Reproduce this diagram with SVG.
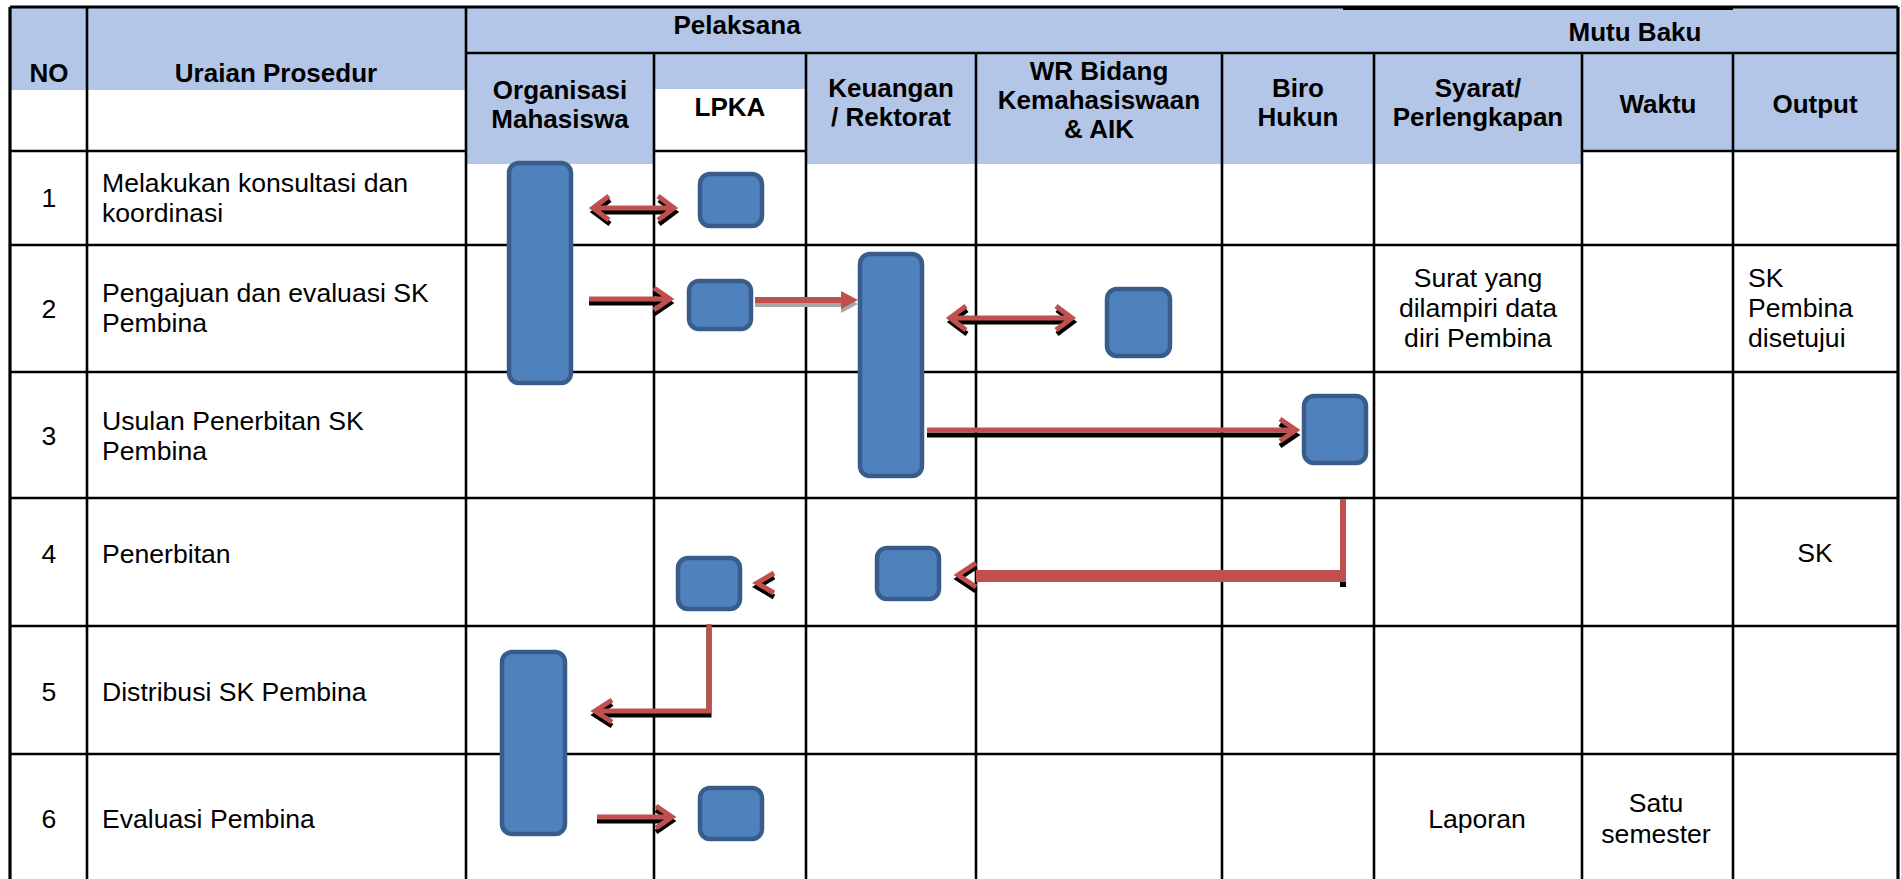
<svg xmlns="http://www.w3.org/2000/svg" width="1901" height="879" viewBox="0 0 1901 879">
<style>
.hd{fill:#B4C6E7}
.ln{stroke:#000;stroke-width:2.6;fill:none}
.ol{stroke:#000;stroke-width:3.2;fill:none}
.th{font-family:"Liberation Sans",Arial,sans-serif;font-size:26px;font-weight:bold;fill:#000;text-anchor:middle}
.tb{font-family:"Liberation Sans",Arial,sans-serif;font-size:26.6px;fill:#000}
.c{text-anchor:middle}
.box{fill:#4F81BD;stroke:#385D8A;stroke-width:4.5}
.rd{stroke:#C0504D;stroke-width:5;fill:none;stroke-linejoin:miter}
.sh{stroke:#000;stroke-width:5;fill:none;stroke-linejoin:miter}
.gs{stroke:#A6A6A6;stroke-width:6;fill:none}
</style>
<defs>
<path id="p1" d="M593,208 H674 M609,196 L593,208 L609,220 M658,196 L674,208 L658,220"/>
<path id="p2" d="M589,299 H670 M654,288 L670,299 L654,310"/>
<path id="p4" d="M950,318 H1072 M966,306 L950,318 L966,330 M1056,306 L1072,318 L1056,330"/>
<path id="p5" d="M927,430 H1296 M1280,419 L1296,430 L1280,441"/>
<path id="p6h" d="M976,563 L958,575 L976,587"/>
<path id="p7" d="M774,573 L757,583 L774,593"/>
<path id="p8" d="M709,624 V711 H595 M612,700 L595,711 L612,722"/>
<path id="p9" d="M597,817 H672 M656,806 L672,817 L656,828"/>
</defs>
<rect x="0" y="0" width="1901" height="879" fill="#fff"/>
<g id="header-fill">
<rect class="hd" x="10" y="7" width="456" height="83"/>
<rect class="hd" x="466" y="7" width="1432" height="46"/>
<rect class="hd" x="466" y="53" width="188" height="111"/>
<rect class="hd" x="654" y="53" width="152" height="36"/>
<rect class="hd" x="806" y="53" width="776" height="111"/>
<rect class="hd" x="1582" y="53" width="316" height="98"/>
</g>
<g id="grid">
<line class="ol" x1="10" y1="7" x2="1898" y2="7"/>
<line stroke="#000" stroke-width="4" x1="1343" y1="8" x2="1733" y2="8"/>
<line class="ol" x1="10" y1="7" x2="10" y2="879"/>
<line class="ol" x1="1898" y1="7" x2="1898" y2="879"/>
<line class="ln" x1="87" y1="7" x2="87" y2="879"/>
<line class="ln" x1="466" y1="7" x2="466" y2="879"/>
<line class="ln" x1="654" y1="53" x2="654" y2="879"/>
<line class="ln" x1="806" y1="53" x2="806" y2="879"/>
<line class="ln" x1="976" y1="53" x2="976" y2="879"/>
<line class="ln" x1="1222" y1="53" x2="1222" y2="879"/>
<line class="ln" x1="1374" y1="53" x2="1374" y2="879"/>
<line class="ln" x1="1582" y1="53" x2="1582" y2="879"/>
<line class="ln" x1="1733" y1="53" x2="1733" y2="879"/>
<line class="ln" x1="466" y1="53" x2="1898" y2="53"/>
<line class="ln" x1="10" y1="151" x2="466" y2="151"/>
<line class="ln" x1="654" y1="151" x2="806" y2="151"/>
<line class="ln" x1="1582" y1="151" x2="1898" y2="151"/>
<line class="ln" x1="10" y1="245" x2="1898" y2="245"/>
<line class="ln" x1="10" y1="372" x2="1898" y2="372"/>
<line class="ln" x1="10" y1="498" x2="1898" y2="498"/>
<line class="ln" x1="10" y1="626" x2="1898" y2="626"/>
<line class="ln" x1="10" y1="754" x2="1898" y2="754"/>
</g>
<g id="header-text">
<text class="th" x="49" y="82">NO</text>
<text class="th" x="276" y="82">Uraian Prosedur</text>
<text class="th" x="737" y="34">Pelaksana</text>
<text class="th" x="1635" y="41">Mutu Baku</text>
<text class="th" x="560" y="99">Organisasi</text>
<text class="th" x="560" y="128">Mahasiswa</text>
<text class="th" x="730" y="116">LPKA</text>
<text class="th" x="891" y="97">Keuangan</text>
<text class="th" x="891" y="126">/ Rektorat</text>
<text class="th" x="1099" y="80">WR Bidang</text>
<text class="th" x="1099" y="109">Kemahasiswaan</text>
<text class="th" x="1099" y="138">&amp; AIK</text>
<text class="th" x="1298" y="97">Biro</text>
<text class="th" x="1298" y="126">Hukun</text>
<text class="th" x="1478" y="97">Syarat/</text>
<text class="th" x="1478" y="126">Perlengkapan</text>
<text class="th" x="1658" y="113">Waktu</text>
<text class="th" x="1815" y="113">Output</text>
</g>
<g id="body-text">
<text class="tb c" x="49" y="207">1</text>
<text class="tb" x="102" y="192">Melakukan konsultasi dan</text>
<text class="tb" x="102" y="222">koordinasi</text>
<text class="tb c" x="49" y="318">2</text>
<text class="tb" x="102" y="302">Pengajuan dan evaluasi SK</text>
<text class="tb" x="102" y="332">Pembina</text>
<text class="tb c" x="49" y="445">3</text>
<text class="tb" x="102" y="430">Usulan Penerbitan SK</text>
<text class="tb" x="102" y="460">Pembina</text>
<text class="tb c" x="49" y="563">4</text>
<text class="tb" x="102" y="563">Penerbitan</text>
<text class="tb c" x="49" y="701">5</text>
<text class="tb" x="102" y="701">Distribusi SK Pembina</text>
<text class="tb c" x="49" y="828">6</text>
<text class="tb" x="102" y="828">Evaluasi Pembina</text>
<text class="tb c" x="1478" y="287">Surat yang</text>
<text class="tb c" x="1478" y="317">dilampiri data</text>
<text class="tb c" x="1478" y="347">diri Pembina</text>
<text class="tb" x="1748" y="287">SK</text>
<text class="tb" x="1748" y="317">Pembina</text>
<text class="tb" x="1748" y="347">disetujui</text>
<text class="tb c" x="1815" y="562">SK</text>
<text class="tb c" x="1477" y="828">Laporan</text>
<text class="tb c" x="1656" y="812">Satu</text>
<text class="tb c" x="1656" y="843">semester</text>
</g>
<g id="node-org-1"><rect class="box" x="509" y="163" width="62" height="220" rx="10"/></g>
<g id="node-lpka-1"><rect class="box" x="700" y="174" width="62" height="52" rx="10"/></g>
<g id="node-lpka-2"><rect class="box" x="689" y="281" width="62" height="48" rx="10"/></g>
<g id="node-keu-2"><rect class="box" x="860" y="254" width="62" height="222" rx="10"/></g>
<g id="node-wr-2"><rect class="box" x="1107" y="289" width="63" height="67" rx="10"/></g>
<g id="node-biro-3"><rect class="box" x="1304" y="396" width="62" height="67" rx="10"/></g>
<g id="node-keu-4"><rect class="box" x="877" y="548" width="62" height="51" rx="10"/></g>
<g id="node-lpka-4"><rect class="box" x="678" y="558" width="62" height="51" rx="10"/></g>
<g id="node-org-5"><rect class="box" x="502" y="652" width="63" height="182" rx="10"/></g>
<g id="node-lpka-6"><rect class="box" x="700" y="788" width="62" height="51" rx="10"/></g>
<g id="connectors">
<use href="#p1" class="sh" transform="translate(1,4)"/>
<use href="#p1" class="rd"/>
<use href="#p2" class="sh" transform="translate(0,4)"/>
<use href="#p2" class="rd"/>
<path d="M755,300 H842" class="gs" transform="translate(0,4)"/>
<polygon points="841,291 858,300 841,309" fill="#A6A6A6" transform="translate(0,4)"/>
<path d="M755,300 H842" stroke="#C0504D" stroke-width="6" fill="none"/>
<polygon points="841,291 858,300 841,309" fill="#C0504D"/>
<use href="#p4" class="sh" transform="translate(1,4)"/>
<use href="#p4" class="rd"/>
<use href="#p5" class="sh" transform="translate(0,5)"/>
<use href="#p5" class="rd"/>
<rect x="1340" y="580" width="6" height="7" fill="#000"/>
<path d="M1343,499 V582" stroke="#C0504D" stroke-width="6" fill="none"/>
<path d="M1346,576 H976" stroke="#C0504D" stroke-width="12" fill="none"/>
<use href="#p6h" class="sh" transform="translate(0,4)"/>
<use href="#p6h" class="rd"/>
<use href="#p7" class="sh" transform="translate(0,4)"/>
<use href="#p7" class="rd"/>
<use href="#p8" class="sh" transform="translate(0,4)"/>
<use href="#p8" class="rd"/>
<use href="#p9" class="sh" transform="translate(0,4)"/>
<use href="#p9" class="rd"/>
</g>
</svg>
